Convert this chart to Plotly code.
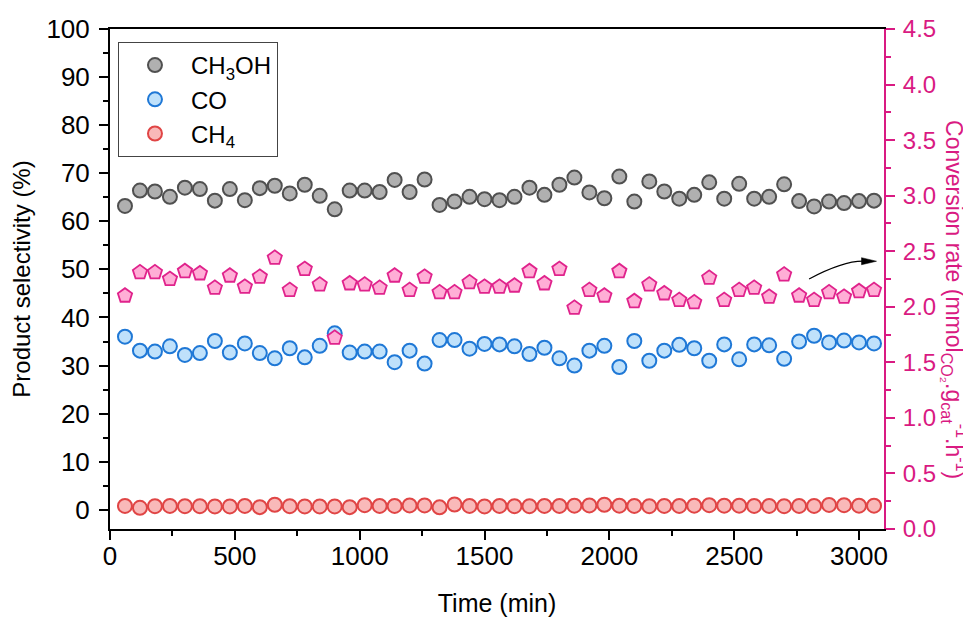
import plotly.graph_objects as go

# ---- data ----
time_min = [60 * i for i in range(1, 52)]

ch3oh = [63.2, 66.4, 66.2, 65.1, 67.0, 66.7, 64.3, 66.7, 64.4, 66.9,
         67.4, 65.8, 67.6, 65.3, 62.5, 66.4, 66.4, 66.1, 68.6, 66.1,
         68.7, 63.4, 64.1, 65.1, 64.6, 64.4, 65.1, 67.0, 65.5, 67.6,
         69.1, 66.0, 64.8, 69.3, 64.1, 68.3, 66.2, 64.7, 65.5, 68.1,
         64.7, 67.8, 64.7, 65.1, 67.7, 64.2, 63.1, 64.1, 63.8, 64.2,
         64.3]

co = [36.0, 33.1, 32.9, 34.0, 32.2, 32.6, 35.1, 32.7, 34.6, 32.6,
      31.5, 33.6, 31.7, 34.1, 36.7, 32.7, 32.9, 32.9, 30.7, 33.1,
      30.4, 35.3, 35.3, 33.5, 34.5, 34.4, 34.0, 32.4, 33.7, 31.5,
      30.0, 33.1, 34.1, 29.7, 35.1, 31.0, 33.1, 34.3, 33.6, 31.0,
      34.4, 31.3, 34.4, 34.2, 31.4, 35.0, 36.2, 34.8, 35.2, 34.8,
      34.6]

ch4 = [0.8, 0.4, 0.75, 0.8, 0.75, 0.75, 0.7, 0.7, 0.8, 0.55,
       1.05, 0.75, 0.7, 0.7, 0.7, 0.55, 0.95, 0.8, 0.8, 0.9,
       0.9, 0.5, 1.1, 0.8, 0.7, 0.8, 0.75, 0.75, 0.8, 0.8,
       0.85, 0.9, 1.05, 0.85, 0.8, 0.75, 0.8, 0.8, 0.85, 0.95,
       0.85, 0.85, 0.8, 0.8, 0.75, 0.8, 0.8, 1.0, 0.95, 0.85,
       0.85]

conv_rate = [2.10, 2.31, 2.31, 2.25, 2.32, 2.30, 2.17, 2.28, 2.18, 2.27,
             2.44, 2.15, 2.34, 2.20, 1.72, 2.21, 2.20, 2.17, 2.28, 2.15,
             2.27, 2.13, 2.13, 2.22, 2.18, 2.18, 2.19, 2.32, 2.21, 2.34,
             1.99, 2.15, 2.10, 2.32, 2.05, 2.20, 2.12, 2.06, 2.04, 2.26,
             2.06, 2.15, 2.17, 2.09, 2.29, 2.10, 2.06, 2.13, 2.09, 2.14,
             2.15]

x_ticks = [0, 500, 1000, 1500, 2000, 2500, 3000]

FONT = "Liberation Sans, Arial, sans-serif"
MAG = "#d91a82"

fig = go.Figure()

fig.add_trace(go.Scatter(
    x=time_min, y=ch3oh, mode="markers", name="CH<sub>3</sub>OH",
    marker=dict(symbol="circle", size=14, color="#b0b0b0",
                line=dict(color="#505050", width=2))))
fig.add_trace(go.Scatter(
    x=time_min, y=co, mode="markers", name="CO",
    marker=dict(symbol="circle", size=14, color="#bfe1fb",
                line=dict(color="#1f78d6", width=2))))
fig.add_trace(go.Scatter(
    x=time_min, y=ch4, mode="markers", name="CH<sub>4</sub>",
    marker=dict(symbol="circle", size=14, color="#f9b9b9",
                line=dict(color="#e04545", width=2))))
fig.add_trace(go.Scatter(
    x=time_min, y=conv_rate, mode="markers", name="Conversion rate",
    yaxis="y2", showlegend=False,
    marker=dict(symbol="pentagon", size=15, color="#ffaed6",
                line=dict(color="#e0238c", width=1.8))))

# curved arrow pointing to right axis
fig.add_shape(type="path", xref="x", yref="y2",
              path="M 2800,2.25 Q 2935,2.41 3015,2.41",
              line=dict(color="black", width=1.2))
fig.add_shape(type="path", xref="x", yref="y2",
              path="M 3010,2.442 L 3070,2.41 L 3010,2.378 Z",
              fillcolor="black", line=dict(color="black", width=0.5))

# right axis title (reads top-to-bottom)
fig.add_annotation(
    xref="paper", yref="paper", x=1.0917, y=0.458,
    xanchor="center", yanchor="middle",
    text="Conversion rate (mmol<sub>CO₂</sub>.g<sub>cat</sub><sup>-1</sup>.h<sup>-1</sup>)",
    textangle=90, showarrow=False,
    font=dict(family=FONT, size=23, color=MAG))

# page body has an 8px margin; figure is sized/placed to compensate
fig.update_layout(
    width=963, height=614,
    margin=dict(l=102, r=87, t=21, b=93, autoexpand=False),
    paper_bgcolor="white", plot_bgcolor="white",
    font=dict(family=FONT, size=26, color="black"),
    showlegend=True,
    legend=dict(x=0.0103, y=0.974, xanchor="left", yanchor="top",
                bordercolor="#444", borderwidth=1, bgcolor="white",
                font=dict(family=FONT, size=24, color="black"),
                tracegroupgap=0, itemwidth=62),
    xaxis=dict(range=[0, 3100], tickvals=x_ticks, automargin=False,
               showline=True, linecolor="black", linewidth=2, mirror=True,
               ticks="outside", ticklen=9, tickwidth=2, tickcolor="black",
               minor=dict(dtick=250, ticks="outside", ticklen=5, tickwidth=2,
                          tickcolor="black"),
               showgrid=False, zeroline=False, ticklabelstandoff=-6,
               tickfont=dict(size=26),
               title=dict(text="Time (min)", font=dict(size=25), standoff=24)),
    yaxis=dict(range=[-4, 100], dtick=10, tick0=0, automargin=False,
               showline=True, linecolor="black", linewidth=2, mirror=False,
               ticks="outside", ticklen=9, tickwidth=2, tickcolor="black",
               minor=dict(dtick=5, ticks="outside", ticklen=5, tickwidth=2,
                          tickcolor="black"),
               showgrid=False, zeroline=False, ticklabelstandoff=4,
               tickfont=dict(size=26),
               title=dict(text="Product selectivity (%)", font=dict(size=24),
                          standoff=9)),
    yaxis2=dict(range=[0, 4.5], dtick=0.5, tick0=0, tickformat=".1f",
                overlaying="y", side="right", automargin=False,
                showline=True, linecolor=MAG, linewidth=2,
                ticks="outside", ticklen=9, tickwidth=2, tickcolor=MAG,
                minor=dict(dtick=0.25, ticks="outside", ticklen=5, tickwidth=2,
                           tickcolor=MAG),
                showgrid=False, zeroline=False, ticklabelstandoff=3,
                tickfont=dict(size=24, color=MAG)),
)

fig.write_html("out.html")
